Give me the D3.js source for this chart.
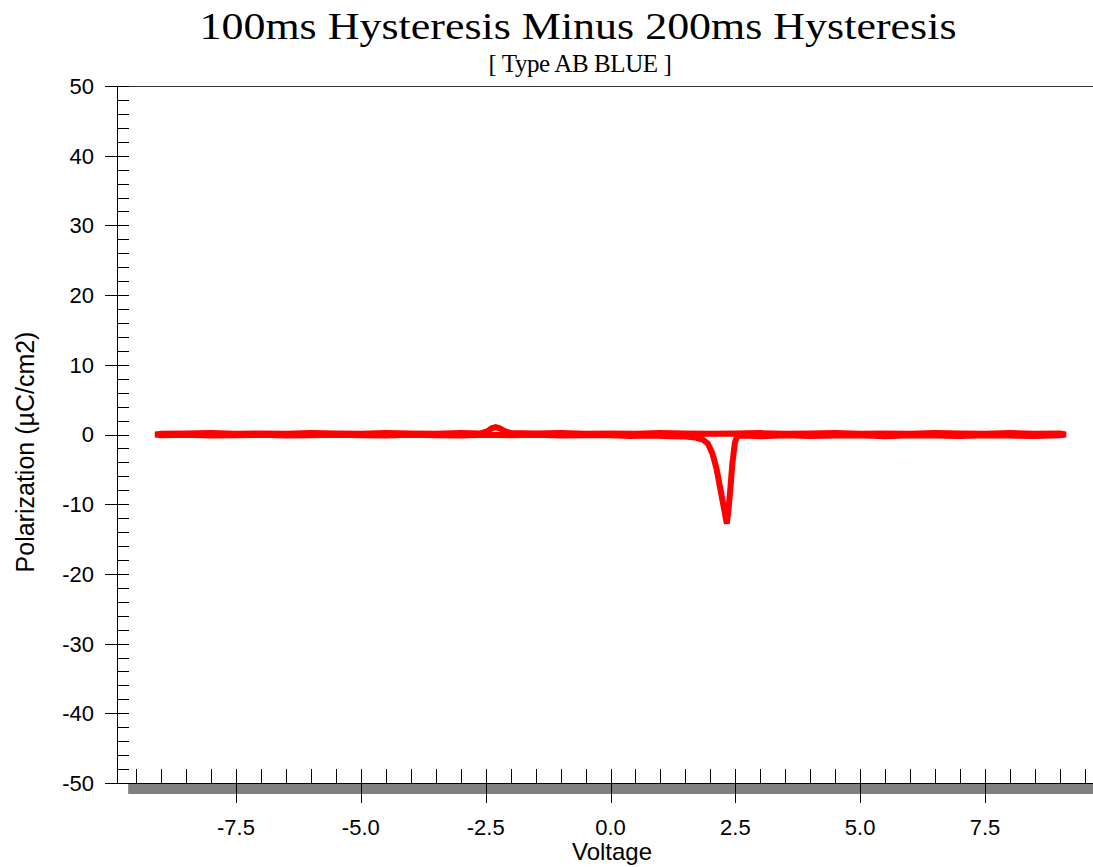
<!DOCTYPE html>
<html>
	<head>
		<meta charset="utf-8">
		<title>100ms Hysteresis Minus 200ms Hysteresis</title>
		<script src="https://d3js.org/d3.v7.min.js"></script>
		<style>
			body { margin: 0; background: #fff; }
			svg { display: block; }
		</style>
	</head>
	<body>
		<script>
			var w = 1093;
			var h = 867;

			var title = "100ms Hysteresis Minus 200ms Hysteresis";
			var subtitle = "[ Type AB BLUE ]";
			var xTitle = "Voltage";
			var yTitle = "Polarization (\u00b5C/cm2)";

			var xMajorTicks = [-7.5, -5.0, -2.5, 0.0, 2.5, 5.0, 7.5];
			var yMajorTicks = [50, 40, 30, 20, 10, 0, -10, -20, -30, -40, -50];

			// sweep 0 -> +9 (switching dip near +2.3)
			var voltageUp = [0, 0.4, 0.8, 1.2, 1.5, 1.7, 1.85, 1.95, 2.04, 2.12, 2.2, 2.27, 2.33, 2.36, 2.40, 2.44, 2.49, 2.54, 2.7, 3.0, 3.5, 4.0, 4.5, 5.0, 5.5, 6.0, 6.5, 7.0, 7.5, 8.0, 8.5, 9.0, 9.12];
			var polarizationUp = [-0.1, -0.2, -0.15, -0.25, -0.3, -0.45, -0.75, -1.3, -2.7, -4.8, -7.8, -10.5, -12.8, -11, -7.8, -4.2, -1.2, -0.2, -0.15, -0.25, -0.1, -0.2, -0.15, -0.1, -0.25, -0.1, -0.15, -0.2, -0.1, -0.15, -0.2, -0.1, 0];

			// sweep +9 -> -9 (small bump near -2.3)
			var voltageDown = [9.0, 8.5, 8.0, 7.5, 7.0, 6.5, 6.0, 5.5, 5.0, 4.5, 4.0, 3.5, 3.0, 2.5, 2.0, 1.5, 1.0, 0.5, 0.0, -0.5, -1.0, -1.5, -2.0, -2.12, -2.22, -2.3, -2.38, -2.47, -2.6, -3.0, -3.5, -4.0, -4.5, -5.0, -5.5, -6.0, -6.5, -7.0, -7.5, -8.0, -8.5, -9.0, -9.12];
			var polarizationDown = [0.15, 0.1, 0.2, 0.1, 0.15, 0.2, 0.1, 0.15, 0.1, 0.2, 0.15, 0.1, 0.2, 0.15, 0.1, 0.15, 0.2, 0.1, 0.15, 0.1, 0.2, 0.15, 0.2, 0.5, 0.9, 1.05, 0.9, 0.45, 0.15, 0.2, 0.1, 0.15, 0.2, 0.1, 0.15, 0.2, 0.1, 0.15, 0.1, 0.2, 0.15, 0.1, 0];

			// sweep -9 -> 0
			var voltageBack = [-9.0, -8.5, -8.0, -7.5, -7.0, -6.5, -6.0, -5.5, -5.0, -4.5, -4.0, -3.5, -3.0, -2.5, -2.0, -1.5, -1.0, -0.5, 0];
			var polarizationBack = [-0.1, -0.05, -0.15, -0.1, -0.05, -0.15, -0.1, -0.05, -0.1, -0.15, -0.05, -0.1, -0.15, -0.05, -0.1, -0.05, -0.15, -0.1, -0.1];

			var xScale = d3.scaleLinear()
				.domain([-7.5, 7.5])
				.range([236, 985]);

			var yScale = d3.scaleLinear()
				.domain([-50, 50])
				.range([783, 86]);

			var svg = d3.select("body")
						.append("svg")
						.attr("width", w)
						.attr("height", h);

			// titles
			svg.append("text")
				.attr("x", 578)
				.attr("y", 39)
				.attr("text-anchor", "middle")
				.attr("font-family", "'Liberation Serif', 'Times New Roman', serif")
				.attr("font-size", 38)
				.attr("textLength", 757)
				.attr("lengthAdjust", "spacingAndGlyphs")
				.text(title);

			svg.append("text")
				.attr("x", 580)
				.attr("y", 72)
				.attr("text-anchor", "middle")
				.attr("font-family", "'Liberation Serif', 'Times New Roman', serif")
				.attr("font-size", 25)
				.attr("letter-spacing", -0.4)
				.text(subtitle);

			// frame: gray band under x axis, bottom and top lines
			svg.append("rect")
				.attr("x", xScale(-9.66))
				.attr("y", yScale(-50))
				.attr("width", w - xScale(-9.66))
				.attr("height", 11)
				.attr("fill", "#808080");

			svg.append("line")
				.attr("x1", 117).attr("x2", w)
				.attr("y1", yScale(50) + 0.5).attr("y2", yScale(50) + 0.5)
				.attr("stroke", "#333");

			svg.append("line")
				.attr("x1", 117).attr("x2", w)
				.attr("y1", yScale(-50) + 0.5).attr("y2", yScale(-50) + 0.5)
				.attr("stroke", "#000");

			svg.append("line")
				.attr("x1", 117.5).attr("x2", 117.5)
				.attr("y1", yScale(50)).attr("y2", yScale(-50))
				.attr("stroke", "#000");

			// y ticks
			var yMinor = d3.range(-50, 50.1, 2);
			svg.selectAll(".yminor")
				.data(yMinor)
				.enter()
				.append("line")
				.attr("x1", 117).attr("x2", 129)
				.attr("y1", function(d) { return Math.round(yScale(d)) + 0.5; })
				.attr("y2", function(d) { return Math.round(yScale(d)) + 0.5; })
				.attr("stroke", "#000");

			svg.selectAll(".ymajor")
				.data(yMajorTicks)
				.enter()
				.append("line")
				.attr("x1", 105).attr("x2", 129)
				.attr("y1", function(d) { return Math.round(yScale(d)) + 0.5; })
				.attr("y2", function(d) { return Math.round(yScale(d)) + 0.5; })
				.attr("stroke", "#000");

			svg.selectAll(".ylabel")
				.data(yMajorTicks)
				.enter()
				.append("text")
				.attr("x", 94)
				.attr("y", function(d) { return yScale(d); })
				.attr("dy", "0.36em")
				.attr("text-anchor", "end")
				.attr("font-family", "'Liberation Sans', Arial, sans-serif")
				.attr("font-size", 22)
				.text(function(d) { return d; });

			// x ticks
			var xMinor = d3.range(-9.5, 9.6, 0.5);
			svg.selectAll(".xminor")
				.data(xMinor)
				.enter()
				.append("line")
				.attr("x1", function(d) { return Math.round(xScale(d)) + 0.5; })
				.attr("x2", function(d) { return Math.round(xScale(d)) + 0.5; })
				.attr("y1", 769).attr("y2", 783)
				.attr("stroke", "#000");

			svg.selectAll(".xmajor")
				.data(xMajorTicks)
				.enter()
				.append("line")
				.attr("x1", function(d) { return Math.round(xScale(d)) + 0.5; })
				.attr("x2", function(d) { return Math.round(xScale(d)) + 0.5; })
				.attr("y1", 769).attr("y2", 803)
				.attr("stroke", "#000");

			svg.selectAll(".xlabel")
				.data(xMajorTicks)
				.enter()
				.append("text")
				.attr("x", function(d) { return xScale(d); })
				.attr("y", 835)
				.attr("text-anchor", "middle")
				.attr("font-family", "'Liberation Sans', Arial, sans-serif")
				.attr("font-size", 22)
				.text(function(d) { return d.toFixed(1); });

			// axis titles
			svg.append("text")
				.attr("x", 612)
				.attr("y", 860)
				.attr("text-anchor", "middle")
				.attr("font-family", "'Liberation Sans', Arial, sans-serif")
				.attr("font-size", 24)
				.text(xTitle);

			svg.append("text")
				.attr("transform", "translate(34,452) rotate(-90)")
				.attr("text-anchor", "middle")
				.attr("font-family", "'Liberation Sans', Arial, sans-serif")
				.attr("font-size", 25)
				.text(yTitle);

			// data: one continuous sweep
			var sweep = [];
			voltageUp.forEach(function(v, i) { sweep.push([v, polarizationUp[i]]); });
			voltageDown.forEach(function(v, i) { sweep.push([v, polarizationDown[i]]); });
			voltageBack.forEach(function(v, i) { sweep.push([v, polarizationBack[i]]); });

			var line = d3.line()
				.x(function(d) { return xScale(d[0]); })
				.y(function(d) { return yScale(d[1]); });

			svg.append("path")
				.datum(sweep)
				.attr("d", line)
				.attr("fill", "none")
				.attr("stroke", "#ff0000")
				.attr("stroke-width", 6)
				.attr("stroke-linejoin", "miter");
		</script>
	</body>
</html>
